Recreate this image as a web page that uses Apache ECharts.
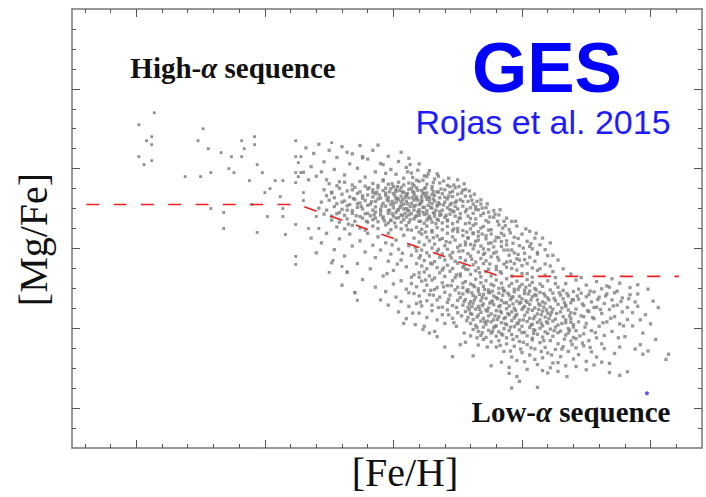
<!DOCTYPE html>
<html>
<head>
<meta charset="utf-8">
<script src="https://cdn.jsdelivr.net/npm/echarts@6/dist/echarts.min.js"></script>
<style>
  html, body { margin: 0; padding: 0; background: #ffffff; }
  #chart { width: 706px; height: 497px; }
</style>
</head>
<body>
<div id="chart"></div>
<script>
// Axis extents ([Fe/H] horizontally, [Mg/Fe] vertically, both in dex)
const feHRange = [-1.75, 0.70];
const mgFeRange = [-0.30, 0.80];

// Tick positions (no labels are drawn, only tick marks on all four sides)
const feHMajorTicks = [-1.5, -1.0, -0.5, 0.0, 0.5];
const feHMinorTicks = [-1.7, -1.6, -1.4, -1.3, -1.2, -1.1, -0.9, -0.8, -0.7, -0.6, -0.4, -0.3, -0.2, -0.1, 0.1, 0.2, 0.3, 0.4, 0.6];
const mgFeMajorTicks = [-0.2, 0.0, 0.2, 0.4, 0.6];
const mgFeMinorTicks = [-0.25, -0.15, -0.1, -0.05, 0.05, 0.1, 0.15, 0.25, 0.3, 0.35, 0.45, 0.5, 0.55, 0.65, 0.7, 0.75];

// Dividing line between the high-alpha and low-alpha sequences
const dividingLine = [[-1.75, 0.31], [-0.871, 0.31], [-0.085, 0.13], [0.61, 0.13]];

// Sparse metal-poor stars
const metalPoorStars = [
  [-1.43,0.54],[-1.49,0.51],[-1.46,0.47],[-1.44,0.48],[-1.44,0.46],[-1.49,0.43],[-1.44,0.42],[-1.47,0.41],
  [-1.24,0.50],[-1.26,0.47],[-1.22,0.45],[-1.17,0.44],[-1.13,0.43],[-1.09,0.43],[-1.09,0.47],[-1.04,0.48],
  [-1.04,0.46],[-1.08,0.45],[-1.31,0.38],[-1.25,0.38],[-1.21,0.39],[-1.14,0.40],[-1.12,0.39],[-1.03,0.41],
  [-1.01,0.39],[-1.06,0.37],[-0.96,0.37],[-0.93,0.37],[-0.98,0.35],[-1.00,0.34],[-0.94,0.33],[-1.05,0.31],
  [-1.21,0.30],[-1.16,0.29],[-1.16,0.25],[-1.03,0.24],[-0.99,0.28],[-0.93,0.28],[-0.93,0.30],[-0.92,0.235],
  [-0.88,0.47],[-0.88,0.43],[-0.86,0.43],[-0.87,0.415],[-0.88,0.39],[-0.87,0.38],[-0.86,0.39],[-0.88,0.365],
  [-0.85,0.34],[-0.85,0.32],[-0.88,0.26],[-0.83,0.25],[-0.80,0.28],[-0.79,0.25],[-0.74,0.465],[-0.88,0.18],
  [-0.88,0.16],[-0.735,0.17],[-0.75,0.14],[-0.70,0.155],[-0.68,0.14],[-0.65,0.09],[-0.64,0.07]
];

// High-alpha (thick disc) sequence
const highAlphaStars = [
  [-0.84,0.452],[-0.81,0.438],[-0.79,0.461],[-0.77,0.417],[-0.75,0.446],[-0.73,0.398],[-0.72,0.428],[-0.70,0.455],
  [-0.69,0.384],[-0.67,0.412],[-0.66,0.437],[-0.64,0.401],[-0.63,0.458],[-0.61,0.379],[-0.60,0.424],[-0.58,0.446],
  [-0.57,0.392],[-0.55,0.413],[-0.54,0.372],[-0.52,0.431],[-0.51,0.398],[-0.49,0.386],[-0.48,0.418],[-0.46,0.376],
  [-0.45,0.403],[-0.43,0.389],[-0.41,0.371],[-0.40,0.412],[-0.38,0.382],[-0.36,0.395],[-0.34,0.374],[-0.33,0.387],
  [-0.82,0.405],[-0.80,0.381],[-0.78,0.392],[-0.76,0.372],[-0.71,0.367],[-0.68,0.441],[-0.62,0.427],[-0.56,0.459],
  [-0.53,0.388],[-0.47,0.441],[-0.44,0.426],[-0.85,0.391],[-0.83,0.372],
  [-0.28,0.355],[-0.25,0.372],[-0.22,0.348],[-0.18,0.305],[-0.20,0.331],[-0.16,0.322],[-0.13,0.291],[-0.37,0.38],
  [-0.435,0.41],[-0.54,0.41],[-0.62,0.43],
  [-0.75,0.362],[-0.72,0.357],[-0.69,0.366],[-0.66,0.359],[-0.63,0.368],[-0.61,0.356],[-0.58,0.363],[-0.56,0.358],
  [-0.54,0.369],[-0.52,0.361],[-0.50,0.355],[-0.48,0.366],[-0.46,0.359],[-0.44,0.364],[-0.42,0.357],[-0.40,0.368],
  [-0.37,0.361],[-0.35,0.355],[-0.32,0.364],[-0.29,0.358],[-0.26,0.352],[-0.23,0.346],
  [-0.77,0.347],[-0.74,0.341],[-0.71,0.351],[-0.68,0.344],[-0.65,0.353],[-0.63,0.342],[-0.60,0.349],[-0.58,0.340],
  [-0.56,0.352],[-0.54,0.345],[-0.53,0.339],[-0.51,0.350],[-0.49,0.343],[-0.47,0.353],[-0.46,0.341],[-0.44,0.348],
  [-0.42,0.340],[-0.41,0.352],[-0.39,0.345],[-0.37,0.339],[-0.35,0.349],[-0.33,0.342],[-0.30,0.347],[-0.28,0.340],
  [-0.25,0.336],[-0.22,0.331],
  [-0.76,0.332],[-0.73,0.327],[-0.70,0.336],[-0.67,0.329],[-0.64,0.338],[-0.62,0.326],[-0.60,0.334],[-0.58,0.329],
  [-0.57,0.337],[-0.55,0.326],[-0.53,0.333],[-0.52,0.328],[-0.50,0.338],[-0.49,0.325],[-0.47,0.331],[-0.45,0.336],
  [-0.44,0.327],[-0.42,0.334],[-0.41,0.325],[-0.39,0.330],[-0.38,0.338],[-0.36,0.326],[-0.34,0.333],[-0.32,0.327],
  [-0.31,0.337],[-0.29,0.324],[-0.27,0.330],[-0.24,0.322],[-0.21,0.318],[-0.19,0.311],
  [-0.78,0.316],[-0.75,0.321],[-0.72,0.312],[-0.69,0.319],[-0.67,0.310],[-0.65,0.323],[-0.63,0.314],[-0.61,0.320],
  [-0.59,0.311],[-0.57,0.318],[-0.56,0.324],[-0.54,0.313],[-0.52,0.319],[-0.51,0.310],[-0.49,0.316],[-0.48,0.322],
  [-0.46,0.311],[-0.45,0.318],[-0.43,0.313],[-0.42,0.321],[-0.40,0.310],[-0.39,0.317],[-0.37,0.323],[-0.35,0.312],
  [-0.34,0.319],[-0.32,0.311],[-0.30,0.316],[-0.28,0.309],[-0.26,0.315],[-0.23,0.306],[-0.20,0.302],[-0.17,0.297],
  [-0.79,0.301],[-0.76,0.296],[-0.73,0.305],[-0.70,0.298],[-0.68,0.307],[-0.66,0.295],[-0.64,0.303],[-0.62,0.299],
  [-0.60,0.308],[-0.58,0.296],[-0.57,0.304],[-0.55,0.298],[-0.53,0.306],[-0.52,0.295],[-0.50,0.302],[-0.48,0.297],
  [-0.47,0.307],[-0.45,0.300],[-0.44,0.294],[-0.42,0.305],[-0.40,0.297],[-0.38,0.303],[-0.37,0.295],[-0.35,0.301],
  [-0.33,0.306],[-0.31,0.296],[-0.29,0.302],[-0.27,0.294],[-0.25,0.299],[-0.22,0.292],[-0.19,0.288],[-0.16,0.283],
  [-0.77,0.286],[-0.74,0.281],[-0.71,0.290],[-0.69,0.283],[-0.66,0.288],[-0.63,0.280],[-0.61,0.287],[-0.59,0.282],
  [-0.57,0.291],[-0.55,0.284],[-0.54,0.279],[-0.52,0.288],[-0.50,0.281],[-0.49,0.290],[-0.47,0.284],[-0.45,0.279],
  [-0.43,0.287],[-0.41,0.282],[-0.40,0.291],[-0.38,0.285],[-0.36,0.280],[-0.34,0.289],[-0.32,0.283],[-0.30,0.278],
  [-0.28,0.286],[-0.26,0.281],[-0.24,0.276],[-0.21,0.281],[-0.18,0.274],[-0.14,0.270],
  [-0.74,0.271],[-0.71,0.266],[-0.68,0.274],[-0.65,0.268],[-0.62,0.276],[-0.60,0.266],[-0.58,0.272],[-0.56,0.267],
  [-0.54,0.275],[-0.52,0.264],[-0.51,0.270],[-0.49,0.276],[-0.47,0.266],[-0.46,0.272],[-0.44,0.265],[-0.42,0.274],
  [-0.40,0.268],[-0.38,0.263],[-0.37,0.271],[-0.35,0.266],[-0.33,0.273],[-0.31,0.264],[-0.29,0.269],[-0.27,0.262],
  [-0.25,0.267],[-0.22,0.262],[-0.19,0.258],[-0.15,0.255],
  [-0.72,0.254],[-0.69,0.249],[-0.66,0.258],[-0.63,0.251],[-0.61,0.246],[-0.58,0.256],[-0.56,0.250],[-0.53,0.259],
  [-0.51,0.247],[-0.49,0.254],[-0.47,0.249],[-0.45,0.257],[-0.43,0.246],[-0.41,0.253],[-0.39,0.248],[-0.37,0.256],
  [-0.35,0.245],[-0.33,0.252],[-0.31,0.247],[-0.29,0.255],[-0.27,0.244],[-0.25,0.250],[-0.23,0.245],[-0.20,0.249],
  [-0.17,0.242],[-0.13,0.246],
  [-0.515,0.342],[-0.505,0.318],[-0.495,0.333],[-0.485,0.296],[-0.475,0.345],[-0.465,0.322],[-0.455,0.288],[-0.445,0.338],
  [-0.435,0.305],[-0.425,0.327],[-0.415,0.279],[-0.405,0.346],[-0.395,0.313],[-0.385,0.291],[-0.375,0.331],[-0.365,0.308],
  [-0.355,0.274],[-0.345,0.324],[-0.335,0.296],[-0.325,0.341],[-0.315,0.285],
  [-0.51,0.271],[-0.50,0.311],[-0.49,0.347],[-0.48,0.277],[-0.47,0.316],[-0.46,0.299],[-0.45,0.332],[-0.44,0.284],
  [-0.43,0.351],[-0.42,0.296],[-0.41,0.329],[-0.40,0.283],[-0.39,0.322],[-0.38,0.350],[-0.37,0.287],[-0.36,0.317],
  [-0.35,0.335],[-0.34,0.281],[-0.33,0.309],[-0.32,0.292],
  [-0.505,0.287],[-0.485,0.326],[-0.465,0.282],[-0.445,0.312],[-0.425,0.343],[-0.405,0.292],[-0.385,0.338],[-0.365,0.276],
  [-0.345,0.342],[-0.325,0.315],
  [-0.62,0.332],[-0.60,0.288],[-0.64,0.312],[-0.58,0.347],[-0.55,0.292],[-0.57,0.276],[-0.53,0.351],[-0.30,0.328],
  [-0.28,0.297],[-0.27,0.343],[-0.29,0.271],[-0.26,0.305],[-0.24,0.287],[-0.23,0.318],[-0.66,0.347],[-0.68,0.296],
  [-0.70,0.316],[-0.72,0.287],[-0.74,0.339],
  [-0.595,0.352],[-0.585,0.317],[-0.575,0.284],[-0.565,0.341],[-0.545,0.306],[-0.535,0.269],[-0.525,0.323],[-0.515,0.296],
  [-0.495,0.264],[-0.485,0.355],[-0.475,0.303],[-0.455,0.327],[-0.435,0.272],[-0.425,0.362],[-0.415,0.308],[-0.395,0.268],
  [-0.375,0.352],[-0.355,0.303],[-0.335,0.262],[-0.315,0.349],[-0.305,0.309],[-0.295,0.283],[-0.285,0.331],[-0.265,0.292],
  [-0.255,0.319],[-0.245,0.276],[-0.235,0.339],[-0.215,0.298],[-0.205,0.264],[-0.195,0.321],
  [-0.555,0.334],[-0.505,0.362],[-0.465,0.341],[-0.445,0.296],[-0.405,0.321],[-0.385,0.303],[-0.365,0.329],[-0.345,0.289],
  [-0.325,0.271],[-0.275,0.313],[-0.625,0.305],[-0.645,0.282],[-0.655,0.325],[-0.675,0.261],[-0.605,0.268],
  [-0.445,0.392],[-0.425,0.378],[-0.405,0.396],[-0.385,0.371],[-0.365,0.387],[-0.345,0.365],[-0.325,0.381],[-0.305,0.369],
  [-0.285,0.376],[-0.265,0.359],[-0.245,0.355],[-0.225,0.362],[-0.205,0.344],[-0.185,0.336],[-0.175,0.318],[-0.155,0.301],
  [-0.135,0.312],[-0.125,0.279],[-0.105,0.286],[-0.095,0.268],[-0.085,0.297],[-0.065,0.257],[-0.045,0.239],[-0.025,0.268],
  [-0.015,0.225],[0.015,0.249],[0.035,0.212],[0.055,0.238],
  [-0.20,0.275],[-0.19,0.237],[-0.18,0.262],[-0.17,0.221],[-0.16,0.251],[-0.15,0.288],[-0.14,0.232],[-0.13,0.266],
  [-0.12,0.214],[-0.12,0.247],[-0.11,0.278],[-0.10,0.228],[-0.09,0.259],[-0.08,0.205],[-0.08,0.238],[-0.07,0.268],
  [-0.06,0.219],[-0.05,0.247],[-0.04,0.196],[-0.03,0.228],[-0.02,0.256],[-0.01,0.207],[0.00,0.236],[0.01,0.188],
  [0.02,0.218],[0.03,0.243],[0.04,0.199],[0.05,0.226],[0.06,0.186],[0.07,0.209],[-0.18,0.298],[-0.16,0.311],
  [-0.14,0.302],[-0.11,0.295],[-0.09,0.284],[-0.06,0.276],[-0.04,0.268],[-0.21,0.227],[-0.22,0.209],[-0.15,0.199],
  [-0.10,0.191],[-0.05,0.183],[0.09,0.197],[0.11,0.214],[0.12,0.183],
  [-0.82,0.226],[-0.78,0.214],[-0.76,0.238],[-0.73,0.197],[-0.71,0.224],[-0.69,0.181],[-0.67,0.236],[-0.66,0.206],
  [-0.64,0.162],[-0.63,0.219],[-0.61,0.191],[-0.60,0.238],[-0.59,0.149],[-0.58,0.208],[-0.57,0.177],[-0.56,0.229],
  [-0.55,0.196],[-0.54,0.131],[-0.53,0.214],[-0.52,0.168],[-0.52,0.238],[-0.51,0.186],[-0.50,0.145],[-0.49,0.221],
  [-0.48,0.198],[-0.47,0.119],[-0.47,0.171],[-0.46,0.233],[-0.45,0.154],[-0.44,0.207],[-0.43,0.183],[-0.43,0.128],
  [-0.42,0.226],[-0.41,0.162],[-0.41,0.194],[-0.40,0.139],[-0.40,0.241],[-0.62,0.122],[-0.68,0.141],[-0.74,0.164],
  [-0.57,0.103],[-0.53,0.092],[-0.49,0.078],[-0.45,0.098],[-0.80,0.189],[-0.70,0.108],[-0.65,0.089],
  [-0.39,0.236],[-0.37,0.228],[-0.35,0.241],[-0.33,0.231],[-0.31,0.225],[-0.29,0.238],[-0.27,0.229],[-0.25,0.242],
  [-0.23,0.232],[-0.21,0.226],[-0.19,0.239],[-0.17,0.231],[-0.14,0.224],[-0.12,0.236],[-0.09,0.227],[-0.07,0.233],
  [-0.40,0.216],[-0.38,0.209],[-0.36,0.219],[-0.34,0.211],[-0.32,0.222],[-0.30,0.207],[-0.28,0.215],[-0.26,0.221],
  [-0.24,0.208],[-0.22,0.216],[-0.20,0.210],[-0.18,0.218],[-0.16,0.206],[-0.13,0.213],[-0.11,0.204],[-0.08,0.217],
  [-0.06,0.209],
  [-0.39,0.196],[-0.37,0.189],[-0.35,0.201],[-0.33,0.192],[-0.31,0.186],[-0.29,0.198],[-0.27,0.190],[-0.25,0.203],
  [-0.23,0.194],[-0.21,0.187],[-0.19,0.199],[-0.17,0.191],[-0.15,0.185],[-0.13,0.197],[-0.11,0.188],[-0.07,0.196],
  [-0.03,0.189],
  [-0.40,0.176],[-0.38,0.170],[-0.36,0.181],[-0.34,0.167],[-0.32,0.178],[-0.30,0.171],[-0.28,0.183],[-0.26,0.168],
  [-0.24,0.177],[-0.22,0.170],[-0.20,0.181],[-0.18,0.166],[-0.16,0.175],[-0.14,0.169],[-0.12,0.179],[-0.09,0.171],
  [-0.06,0.166],[-0.02,0.174],
  [-0.39,0.156],[-0.37,0.149],[-0.35,0.161],[-0.33,0.152],[-0.31,0.146],[-0.29,0.158],[-0.27,0.150],[-0.25,0.163],
  [-0.23,0.153],[-0.21,0.147],[-0.19,0.159],[-0.17,0.151],[-0.15,0.162],[-0.13,0.148],[-0.10,0.155],[-0.07,0.161],
  [-0.04,0.150],[0.00,0.157],
  [-0.445,0.247],[-0.415,0.203],[-0.395,0.182],[-0.375,0.241],[-0.355,0.163],[-0.345,0.227],[-0.325,0.198],[-0.305,0.151],
  [-0.295,0.217],[-0.275,0.176],[-0.265,0.249],[-0.255,0.134],[-0.245,0.193],[-0.225,0.157],[-0.215,0.241],[-0.195,0.173],
  [-0.185,0.208],[-0.165,0.139],[-0.155,0.236],[-0.145,0.188],[-0.125,0.161],[-0.105,0.219],[-0.095,0.178],[-0.085,0.142],
  [-0.075,0.251],[-0.055,0.196],[-0.045,0.168],[-0.035,0.213],[-0.015,0.185],[0.005,0.201],[-0.465,0.188],[-0.485,0.161],
  [-0.505,0.209],[-0.525,0.137]
];

// Low-alpha (thin disc) sequence
const lowAlphaStars = [
  [-0.42,0.134],[-0.40,0.128],[-0.38,0.141],[-0.36,0.131],[-0.34,0.126],[-0.32,0.139],[-0.30,0.130],[-0.28,0.143],
  [-0.26,0.127],[-0.24,0.136],
  [-0.43,0.112],[-0.41,0.104],[-0.39,0.118],[-0.37,0.108],[-0.35,0.121],[-0.33,0.102],[-0.31,0.114],[-0.29,0.107],
  [-0.27,0.119],[-0.25,0.103],[-0.23,0.113],
  [-0.42,0.087],[-0.40,0.081],[-0.38,0.094],[-0.36,0.084],[-0.34,0.097],[-0.32,0.078],[-0.30,0.090],[-0.28,0.083],
  [-0.26,0.096],[-0.24,0.077],
  [-0.41,0.062],[-0.39,0.056],[-0.37,0.069],[-0.35,0.058],[-0.33,0.071],[-0.31,0.053],[-0.29,0.065],[-0.27,0.057],
  [-0.25,0.070],
  [-0.40,0.038],[-0.37,0.027],[-0.35,0.044],[-0.33,0.021],[-0.31,0.034],[-0.29,0.046],[-0.27,0.025],[-0.25,0.039],
  [-0.38,0.005],[-0.34,-0.008],[-0.30,0.012],[-0.44,0.055],[-0.45,0.024],[-0.48,0.041],
  [-0.52,0.058],[-0.50,0.111],[-0.47,0.067],[-0.46,0.012],[-0.44,0.089],[-0.55,0.071],
  [-0.375,0.121],[-0.355,0.095],[-0.395,0.066],[-0.425,0.038],[-0.415,0.009],[-0.385,-0.003],
  [-0.22,0.117],[-0.20,0.111],[-0.18,0.123],[-0.16,0.114],[-0.14,0.119],[-0.12,0.110],[-0.10,0.121],[-0.08,0.113],
  [-0.06,0.124],[-0.04,0.112],[-0.02,0.118],[0.00,0.110],[0.02,0.122],[0.04,0.115],[0.07,0.111],[0.10,0.119],
  [0.13,0.112],
  [-0.23,0.102],[-0.21,0.097],[-0.19,0.108],[-0.17,0.099],[-0.15,0.105],[-0.13,0.096],[-0.11,0.107],[-0.09,0.100],
  [-0.07,0.094],[-0.05,0.106],[-0.03,0.098],[-0.01,0.104],[0.01,0.095],[0.03,0.108],[0.05,0.100],[0.08,0.105],
  [0.11,0.096],[0.14,0.103],
  [-0.23,0.086],[-0.21,0.091],[-0.19,0.082],[-0.17,0.093],[-0.15,0.085],[-0.13,0.090],[-0.11,0.081],[-0.09,0.088],
  [-0.07,0.094],[-0.05,0.083],[-0.03,0.091],[-0.01,0.080],[0.01,0.087],[0.03,0.093],[0.05,0.084],[0.07,0.090],
  [0.09,0.081],[0.12,0.088],[0.15,0.083],
  [-0.22,0.072],[-0.20,0.067],[-0.18,0.078],[-0.16,0.069],[-0.14,0.075],[-0.12,0.066],[-0.10,0.077],[-0.08,0.070],
  [-0.06,0.064],[-0.04,0.076],[-0.02,0.068],[0.00,0.074],[0.02,0.065],[0.04,0.079],[0.06,0.071],[0.08,0.066],
  [0.10,0.076],[0.13,0.069],[0.16,0.074],
  [-0.23,0.058],[-0.21,0.052],[-0.19,0.063],[-0.17,0.055],[-0.15,0.061],[-0.13,0.051],[-0.11,0.059],[-0.09,0.054],
  [-0.07,0.064],[-0.05,0.056],[-0.03,0.050],[-0.01,0.062],[0.01,0.055],[0.03,0.060],[0.05,0.051],[0.07,0.058],
  [0.09,0.063],[0.11,0.053],[0.14,0.060],[0.17,0.055],
  [-0.22,0.042],[-0.20,0.037],[-0.18,0.048],[-0.16,0.040],[-0.14,0.046],[-0.12,0.036],[-0.10,0.044],[-0.08,0.039],
  [-0.06,0.049],[-0.04,0.041],[-0.02,0.035],[0.00,0.047],[0.02,0.040],[0.04,0.045],[0.06,0.036],[0.08,0.043],
  [0.10,0.038],[0.12,0.048],[0.15,0.041],[0.18,0.046],
  [-0.21,0.027],[-0.19,0.022],[-0.17,0.033],[-0.15,0.025],[-0.13,0.031],[-0.11,0.021],[-0.09,0.029],[-0.07,0.024],
  [-0.05,0.034],[-0.03,0.026],[-0.01,0.020],[0.01,0.032],[0.03,0.025],[0.05,0.030],[0.07,0.021],[0.09,0.028],
  [0.11,0.033],[0.13,0.023],[0.16,0.029],[0.19,0.024],
  [-0.20,0.012],[-0.18,0.007],[-0.16,0.018],[-0.14,0.010],[-0.12,0.016],[-0.10,0.006],[-0.08,0.014],[-0.06,0.009],
  [-0.04,0.019],[-0.02,0.011],[0.00,0.005],[0.02,0.017],[0.04,0.010],[0.06,0.015],[0.08,0.006],[0.10,0.013],
  [0.12,0.018],[0.14,0.008],[0.17,0.014],[0.20,0.009],
  [-0.19,-0.003],[-0.17,-0.008],[-0.15,0.003],[-0.13,-0.005],[-0.11,0.001],[-0.09,-0.009],[-0.07,-0.001],[-0.05,-0.006],
  [-0.03,0.004],[-0.01,-0.004],[0.01,-0.010],[0.03,0.002],[0.05,-0.005],[0.07,0.000],[0.09,-0.009],[0.11,-0.002],
  [0.13,0.003],[0.15,-0.007],[0.18,-0.001],[0.21,-0.006],
  [-0.16,-0.018],[-0.14,-0.023],[-0.12,-0.012],[-0.10,-0.020],[-0.08,-0.014],[-0.06,-0.024],[-0.04,-0.016],[-0.02,-0.021],
  [0.00,-0.011],[0.02,-0.019],[0.04,-0.025],[0.06,-0.015],[0.08,-0.022],[0.10,-0.013],[0.12,-0.020],[0.14,-0.011],
  [0.17,-0.017],[0.20,-0.023],
  [-0.155,0.077],[-0.135,0.043],[-0.115,0.068],[-0.095,0.022],[-0.075,0.083],[-0.055,0.037],[-0.035,0.061],[-0.015,0.013],
  [0.005,0.052],[0.025,0.086],[0.045,0.024],[0.065,0.047],[-0.145,0.016],[-0.125,0.089],[-0.105,0.031],[-0.085,0.057],
  [-0.065,0.011],[-0.045,0.072],[-0.025,0.045],[0.015,0.069],[0.035,0.008],[0.055,0.082],[0.075,0.034],[-0.165,0.048],
  [-0.175,0.028],[-0.185,0.071],[-0.195,0.089],[-0.205,0.046],[-0.215,0.019],[-0.225,0.067],[-0.235,0.031],[-0.245,0.088],
  [-0.255,0.052],[-0.265,0.014],[-0.275,0.107],[-0.285,0.073],[0.085,0.053],[0.095,0.016],[0.105,0.071],[0.115,0.040],
  [-0.215,0.094],[-0.205,0.061],[-0.195,0.035],[-0.185,0.104],[-0.175,0.002],[-0.165,0.085],[-0.155,0.057],[-0.145,0.097],
  [-0.135,0.018],[-0.125,0.063],[-0.115,0.093],[-0.105,0.005],[-0.095,0.074],[-0.085,0.043],[-0.075,0.101],[-0.065,0.027],
  [-0.055,0.088],[-0.045,0.003],[-0.035,0.079],[-0.025,0.031],[-0.015,0.097],[-0.005,0.065],[0.005,0.021],[0.015,0.103],
  [0.025,0.048],[0.035,0.071],[0.045,-0.004],[0.055,0.096],[0.065,0.061],[0.075,0.012],[0.085,0.087],[0.095,0.046],
  [0.105,0.024],[0.125,0.075],[0.135,0.037],[0.145,0.089],[0.155,0.012],[0.165,0.064],[0.185,0.031],[0.195,0.072],
  [-0.115,-0.008],[-0.075,-0.017],[-0.035,-0.028],[0.005,-0.035],[0.045,-0.013],[0.085,-0.031],[0.125,-0.006],[0.165,-0.027],
  [-0.155,-0.011],[-0.195,0.054],
  [0.16,0.095],[0.18,0.081],[0.19,0.064],[0.20,0.092],[0.21,0.048],[0.22,0.073],[0.23,0.031],[0.23,0.088],
  [0.24,0.057],[0.25,0.012],[0.25,0.079],[0.26,0.042],[0.27,0.066],[0.27,-0.006],[0.28,0.091],[0.28,0.024],
  [0.29,0.053],[0.30,0.078],[0.30,0.005],[0.31,0.037],[0.32,0.062],[0.32,-0.018],[0.33,0.086],[0.33,0.016],
  [0.34,0.047],[0.35,0.071],[0.35,-0.008],[0.36,0.029],[0.37,0.058],[0.37,0.093],[0.38,0.011],[0.39,0.041],
  [0.39,0.076],[0.40,-0.021],[0.41,0.052],[0.41,0.022],[0.42,0.084],[0.43,0.006],[0.43,0.039],[0.44,0.066],
  [0.17,0.021],[0.18,-0.012],[0.19,0.039],[0.20,0.003],[0.21,-0.026],[0.22,0.016],[0.24,-0.014],[0.26,-0.031],
  [0.29,-0.024],[0.31,-0.039],[0.17,0.058],[0.19,0.015],[0.20,0.071],[0.22,0.098],[0.24,0.029],[0.26,0.084],
  [0.28,0.052],[0.31,0.099],[0.34,0.103],[0.36,0.089],
  [0.155,0.051],[0.175,0.087],[0.185,-0.005],[0.205,0.037],[0.215,0.081],[0.225,-0.019],[0.235,0.061],[0.245,0.003],
  [0.255,0.044],[0.265,0.093],[0.275,0.027],[0.285,-0.011],[0.295,0.072],[0.305,0.047],[0.315,0.014],[0.325,0.081],
  [0.345,0.025],[0.355,0.056],[0.375,-0.024],[0.385,0.067],[0.395,0.006],[0.415,0.074],[0.235,-0.037],[0.265,-0.048],
  [0.195,-0.041],[0.155,-0.052],[0.115,-0.067],[0.075,-0.058],[0.035,-0.049],[-0.005,-0.052],[-0.045,-0.057],[-0.085,-0.043],
  [-0.135,-0.047],[-0.175,-0.024],[-0.225,-0.012],[-0.255,0.005],[-0.285,0.034],[-0.325,0.052],[-0.345,0.083],[-0.305,0.104],
  [-0.12,-0.034],[-0.10,-0.047],[-0.09,-0.031],[-0.07,-0.058],[-0.06,-0.039],[-0.04,-0.072],[-0.03,-0.045],[-0.01,-0.033],
  [0.00,-0.061],[0.01,-0.084],[0.02,-0.041],[0.03,-0.067],[0.04,-0.029],[0.05,-0.052],[0.06,-0.091],[0.07,-0.036],
  [0.08,-0.074],[0.09,-0.048],[0.10,-0.062],[0.11,-0.031],[0.12,-0.087],[0.13,-0.053],[0.14,-0.039],[0.15,-0.071],
  [0.16,-0.046],[0.17,-0.094],[0.18,-0.058],[0.19,-0.032],[0.20,-0.077],[0.21,-0.049],[0.22,-0.066],[-0.05,-0.098],
  [-0.02,-0.081],[0.02,-0.103],[0.05,-0.078],[0.08,-0.106],[-0.15,-0.028],[-0.17,-0.042],[-0.20,-0.019],[-0.22,-0.035],
  [0.24,-0.044],[0.25,-0.083],[0.27,-0.059],[0.29,-0.072],[0.32,-0.051],[0.34,-0.088],[0.36,-0.063],[0.38,-0.047],
  [0.11,-0.099],[0.14,-0.108],
  [-0.27,-0.071],[-0.19,-0.069],[-0.12,-0.094],[-0.08,-0.085],[-0.05,-0.113],[-0.02,-0.121],[-0.01,-0.133],[-0.04,-0.150],
  [0.06,-0.148],[0.10,-0.112],[0.14,-0.086],[0.175,-0.121],[0.21,-0.096],[0.25,-0.104],[0.28,-0.092],[0.34,-0.111],
  [0.38,-0.118],[0.41,-0.109],[0.31,-0.085],[-0.33,-0.021],[-0.24,-0.041],[-0.30,-0.047],[-0.36,-0.012],
  [0.45,0.055],[0.46,0.021],[0.47,-0.012],[0.49,-0.057],[0.57,-0.065],[0.56,-0.078],[0.47,-0.065],[0.45,0.086],
  [0.48,0.034],[0.50,0.011],[0.52,-0.028],[0.46,-0.041],[0.53,0.052],[0.44,-0.052],[0.51,0.068],
  [0.06,0.19],[0.05,0.168],[0.06,0.145],[0.03,0.205],[0.09,0.161],[0.12,0.142],[0.14,0.171],[0.10,0.182],
  [0.16,0.149],[0.19,0.136],[0.08,0.226],[0.01,0.172],[0.04,0.151],[0.02,0.137],
  [0.17,0.112],[0.21,0.121],[0.25,0.108],[0.29,0.117],[0.33,0.106],[0.38,0.113],[0.42,0.102],[0.45,0.109],
  [0.49,0.098],[0.35,0.124],[0.23,0.127],
  [-0.04,0.131],[-0.02,0.146],[0.00,0.137],[0.02,0.162],[0.04,0.128],[0.07,0.149],[0.09,0.133],[0.11,0.156],
  [0.13,0.127],[-0.06,0.153],[-0.08,0.138],[-0.10,0.147],[-0.12,0.131],[-0.14,0.142],[-0.16,0.129],[-0.18,0.144],
  [-0.20,0.135],[-0.22,0.148],[-0.24,0.131],[-0.01,0.171],[0.03,0.178],[-0.03,0.162]
];

// Single highlighted star
const highlightedStar = [[0.486, -0.163]];

const frameColor = '#767676';
const tickColor = '#555555';
const starColor = '#7e7e7e';
const starSize = 3.3;

function makeAxis(kind, position, ticks, tickLength, withLine, extra) {
  const range = kind === 'x' ? feHRange : mgFeRange;
  return Object.assign({
    type: 'value',
    position: position,
    min: range[0],
    max: range[1],
    axisLine: { show: withLine, onZero: false, lineStyle: { color: frameColor, width: 1.5 } },
    axisTick: { show: true, inside: true, length: tickLength, customValues: ticks,
                lineStyle: { color: tickColor, width: 1 } },
    axisLabel: { show: false },
    splitLine: { show: false }
  }, extra || {});
}

const serifLabel = {
  fontFamily: '"Liberation Serif", "Times New Roman", serif',
  fontSize: 40,
  color: '#111111'
};

const sequenceRich = {
  t: { fontFamily: '"Liberation Serif", serif', fontWeight: 'bold', fontSize: 29, fill: '#111111' },
  a: { fontFamily: '"Liberation Serif", serif', fontStyle: 'italic', fontWeight: 'bold', fontSize: 29, fill: '#111111' }
};

const chart = echarts.init(document.getElementById('chart'), null, { renderer: 'svg' });

chart.setOption({
  animation: false,
  backgroundColor: '#ffffff',
  grid: { left: 72, right: 4, top: 9, bottom: 48, containLabel: false },
  xAxis: [
    makeAxis('x', 'bottom', feHMajorTicks, 8, true, {
      name: '[Fe/H]', nameLocation: 'middle', nameGap: 4,
      nameTextStyle: Object.assign({ padding: [0, 0, 0, 36] }, serifLabel)
    }),
    makeAxis('x', 'bottom', feHMinorTicks, 4, false),
    makeAxis('x', 'top', feHMajorTicks, 8, true),
    makeAxis('x', 'top', feHMinorTicks, 4, false)
  ],
  yAxis: [
    makeAxis('y', 'left', mgFeMajorTicks, 8, true, {
      name: '[Mg/Fe]', nameLocation: 'middle', nameGap: 19,
      nameTextStyle: Object.assign({ padding: [0, 22, 0, 0] }, serifLabel)
    }),
    makeAxis('y', 'left', mgFeMinorTicks, 4, false),
    makeAxis('y', 'right', mgFeMajorTicks, 8, true),
    makeAxis('y', 'right', mgFeMinorTicks, 4, false)
  ],
  series: [
    {
      name: 'Metal-poor', type: 'scatter', data: metalPoorStars,
      symbol: 'rect', symbolSize: 2.8, silent: true,
      itemStyle: { color: '#727272' }
    },
    {
      name: 'High-alpha', type: 'scatter', data: highAlphaStars,
      symbol: 'rect', symbolSize: starSize, silent: true,
      itemStyle: { color: starColor }
    },
    {
      name: 'Low-alpha', type: 'scatter', data: lowAlphaStars,
      symbol: 'rect', symbolSize: starSize, silent: true,
      itemStyle: { color: starColor }
    },
    {
      name: 'Separation', type: 'line', data: dividingLine,
      symbol: 'none', silent: true, z: 5,
      lineStyle: { color: '#f02020', width: 1.6, type: [13, 14.3], dashOffset: 13 }
    },
    {
      name: 'Highlighted', type: 'scatter', data: highlightedStar,
      symbol: 'circle', symbolSize: 4, silent: true, z: 6,
      itemStyle: { color: '#2a2aff' }
    }
  ],
  graphic: [
    {
      type: 'text', x: 233, y: 68,
      style: { text: '{t|High-}{a|α}{t| sequence}', align: 'center', verticalAlign: 'middle', rich: sequenceRich }
    },
    {
      type: 'text', x: 571, y: 411.5,
      style: { text: '{t|Low-}{a|α}{t| sequence}', align: 'center', verticalAlign: 'middle', rich: sequenceRich }
    },
    {
      type: 'text', x: 547, y: 67,
      style: {
        text: 'GES', align: 'center', verticalAlign: 'middle',
        fontFamily: '"Liberation Sans", Arial, sans-serif', fontWeight: 'bold', fontSize: 71, fill: '#0000ff'
      }
    },
    {
      type: 'text', x: 543, y: 122,
      style: {
        text: 'Rojas et al. 2015', align: 'center', verticalAlign: 'middle',
        fontFamily: '"Liberation Sans", Arial, sans-serif', fontSize: 34, fill: '#1c1cff'
      }
    }
  ]
});
</script>
</body>
</html>
